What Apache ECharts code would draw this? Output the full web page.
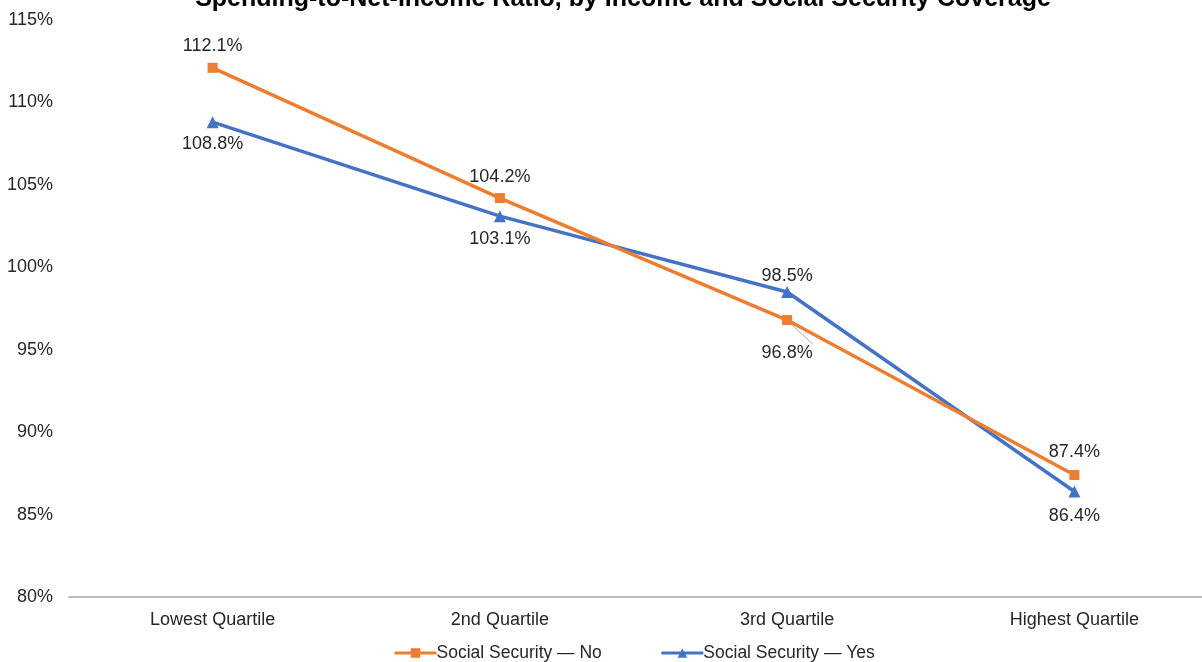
<!DOCTYPE html>
<html>
<head>
<meta charset="utf-8">
<script src="https://cdn.jsdelivr.net/npm/echarts@6/dist/echarts.min.js"></script>
<style>
  html, body { margin: 0; padding: 0; background: #fff; overflow: hidden; }
  #chart { width: 1218px; height: 662px; }
</style>
</head>
<body>
<div id="chart"></div>
<script>
// Income quartiles along the x axis
const categories = ['Lowest Quartile', '2nd Quartile', '3rd Quartile', 'Highest Quartile'];
// Spending as a percentage of net income
const ssNo = [112.1, 104.2, 96.8, 87.4];
const ssYes = [108.8, 103.1, 98.5, 86.4];
// Which side of the marker each value label sits on
const ssNoSide = ['top', 'top', 'bottom', 'top'];
const ssYesSide = ['bottom', 'bottom', 'top', 'bottom'];

const titleText = 'Spending-to-Net-Income Ratio, by Income and Social Security Coverage';
const seriesNames = ['Social Security \u2014 No', 'Social Security \u2014 Yes'];

const textColor = '#262626';
const font = '"Liberation Sans", Arial, sans-serif';

// label gap from the marker, per point
const noGap = [8, 7, 19, 9];
const yesGap = [7, 8, 1, 10];

function buildData(values, sides, gaps) {
  return values.map((v, i) => ({
    value: v,
    label: { position: sides[i], distance: gaps[i] }
  }));
}

const labelStyle = {
  show: true,
  fontFamily: font, fontSize: 18, color: textColor,
  formatter: p => p.value.toFixed(1) + '%'
};

const chart = echarts.init(document.getElementById('chart'), null, { renderer: 'canvas' });

const noData = buildData(ssNo, ssNoSide, noGap);
// short leader from the 3rd-quartile marker down to its label
noData[2].labelLine = { show: true };

chart.setOption({
  animation: false,
  backgroundColor: '#ffffff',
  title: {
    text: titleText,
    left: 618,
    textAlign: 'center',
    top: -18,
    textStyle: { fontFamily: font, fontSize: 25, fontWeight: 'bold', color: '#000' }
  },
  legend: {
    bottom: -5,
    left: 388,
    itemWidth: 42,
    itemHeight: 12,
    itemGap: 58,
    lineStyle: { width: 3 },
    textStyle: { fontFamily: font, fontSize: 17.5, color: textColor, padding: [0, 0, 0, -5] },
    data: seriesNames
  },
  grid: { left: 69, right: 0, top: 20, bottom: 65, containLabel: false },
  xAxis: {
    type: 'category',
    data: categories,
    boundaryGap: true,
    axisLine: { lineStyle: { color: '#a6a6a6', width: 1.5 } },
    axisTick: { show: false },
    axisLabel: { fontFamily: font, fontSize: 18, color: textColor, margin: 14 }
  },
  yAxis: {
    type: 'value',
    min: 80,
    max: 115,
    interval: 5,
    axisLine: { show: false },
    axisTick: { show: false },
    splitLine: { show: false },
    axisLabel: {
      fontFamily: font, fontSize: 18, color: textColor, margin: 16,
      formatter: v => v + '%'
    }
  },
  series: [
    {
      name: seriesNames[0],
      type: 'line',
      data: noData,
      symbol: 'rect',
      symbolSize: 10,
      color: '#ED7D31',
      lineStyle: { width: 3.5, color: '#ED7D31' },
      itemStyle: { color: '#ED7D31' },
      labelLine: { lineStyle: { color: '#a6a6a6', width: 1 } },
      label: labelStyle,
      z: 3
    },
    {
      name: seriesNames[1],
      type: 'line',
      data: buildData(ssYes, ssYesSide, yesGap),
      symbol: 'triangle',
      symbolSize: 12,
      color: '#4472C4',
      lineStyle: { width: 3.5, color: '#4472C4' },
      itemStyle: { color: '#4472C4' },
      label: labelStyle,
      z: 2
    }
  ]
});
</script>
</body>
</html>
